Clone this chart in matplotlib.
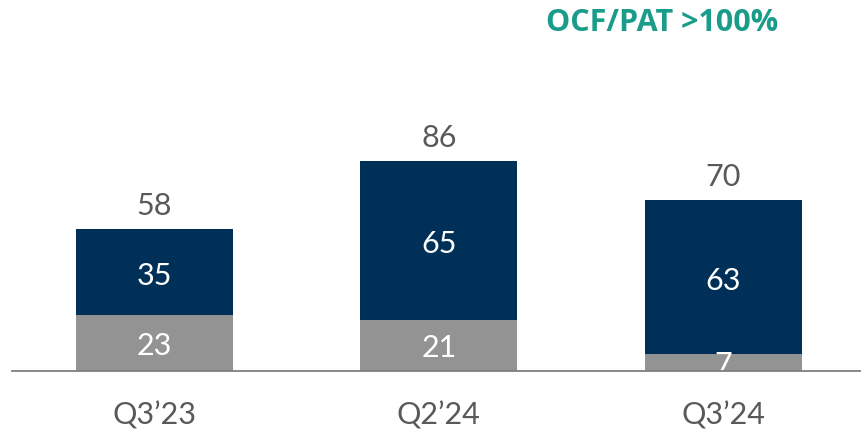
import matplotlib
matplotlib.use("Agg")
import matplotlib.pyplot as plt

categories = ["Q3\u201923", "Q2\u201924", "Q3\u201924"]
bottom_vals = [23, 21, 7]
top_vals = [35, 65, 63]
totals = [58, 86, 70]
title_text = "OCF/PAT >100%"

navy = "#003057"
gray = "#939393"
text_gray = "#595959"
teal = "#1A9C8A"

plt.rcParams['font.family'] = ['Lato', 'DejaVu Sans']

fig = plt.figure(figsize=(8.62, 4.32), dpi=100)
ax = fig.add_axes([12/862, 61/432, 850/862, 371/432])

x = list(range(len(categories)))
w = 0.552
ax.bar(x, bottom_vals, width=w, color=gray, zorder=2)
ax.bar(x, top_vals, width=w, bottom=bottom_vals, color=navy, zorder=2)

fs = 22
for i in x:
    ax.text(i, bottom_vals[i] / 2 - 1.2, str(bottom_vals[i]), ha='center', va='center',
            color='white', fontsize=fs, zorder=3)
    ax.text(i, bottom_vals[i] + top_vals[i] / 2 - 1.5, str(top_vals[i]), ha='center', va='center',
            color='white', fontsize=fs, zorder=3)
    ax.text(i, totals[i] + 9.5, str(totals[i]), ha='center', va='center',
            color=text_gray, fontsize=fs, zorder=3)

ax.set_xlim(-0.5, 2.487)
ax.set_ylim(0, 152)
for s in ['top', 'right', 'left']:
    ax.spines[s].set_visible(False)
ax.spines['bottom'].set_color('#7F7F7F')
ax.spines['bottom'].set_linewidth(1.3)
ax.spines['bottom'].set_zorder(4)
ax.set_yticks([])
ax.set_xticks(x)
ax.set_xticklabels(categories, fontsize=fs, color=text_gray)
ax.tick_params(axis='x', length=0, pad=22)

fig.text(662/862, 1 - 23/432, title_text, ha='center', va='center',
         color=teal, fontsize=22, fontweight='bold', family=['Open Sans', 'DejaVu Sans'])

fig.savefig("out.png", dpi=100)
